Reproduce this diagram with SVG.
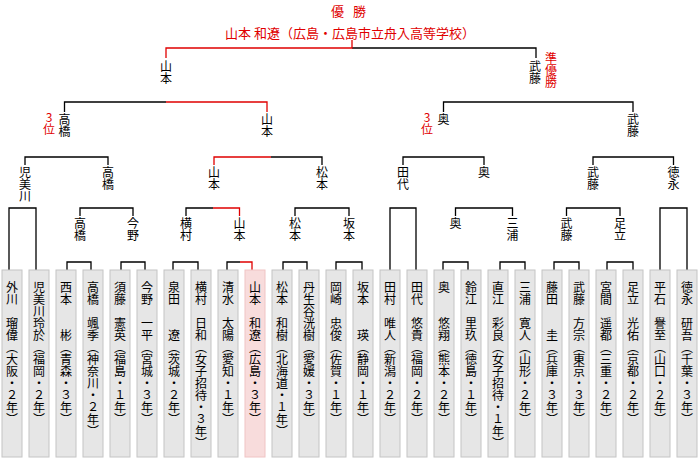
<svg xmlns="http://www.w3.org/2000/svg" width="700" height="460" viewBox="0 0 700 460">
<style>
.l{stroke:#000;stroke-width:1.3;fill:none}
.r{stroke:#e00000;stroke-width:1.3;fill:none}
.b{fill:#e6e6e6;stroke:#c4c4c4;stroke-width:1}
.h{fill:#f8dcdc;stroke:#f0c4c4;stroke-width:1}
text{font-family:"Noto Sans CJK JP","Noto Sans CJK SC",sans-serif}
.v{writing-mode:vertical-rl;font-size:12px;fill:#000}
.n{writing-mode:vertical-rl;font-size:12px;fill:#000}
.rv{writing-mode:vertical-rl;font-size:12px;fill:#e00000;text-orientation:upright}
.t{font-size:13px;fill:#e00000;text-anchor:middle}
</style>
<g id="title">
<text class="t" x="350" y="16" letter-spacing="3">優 勝</text>
<text class="t" x="350" y="38">山本 和遼（広島・広島市立舟入高等学校）</text>
</g>
<g id="connectors">
<path class="l" d="M352,48H536V58"/>
<path class="r" d="M352,40V48H166V58"/>
<path class="l" d="M64.5,112V102H166"/>
<path class="r" d="M166,102H267V112"/>
<path class="l" d="M443.5,112V102H633V112"/>
<path class="l" d="M25,165V157H108V165"/>
<path class="l" d="M271,157H322V165"/>
<path class="r" d="M271,157H214V165"/>
<path class="l" d="M403,165V157H484V165"/>
<path class="l" d="M593,165V157H673.5V165"/>
<path class="l" d="M9,270V208H36V270"/>
<path class="l" d="M80,216V208H133V216"/>
<path class="l" d="M186,216V208H213"/>
<path class="r" d="M213,208H239.5V216"/>
<path class="l" d="M295,216V208H349V216"/>
<path class="l" d="M390,270V208H416V270"/>
<path class="l" d="M455.5,216V208H512.5V216"/>
<path class="l" d="M566.5,216V208H620V216"/>
<path class="l" d="M660,270V208H687V270"/>
<path class="l" d="M67,270V262H91V270"/>
<path class="l" d="M121,270V262H145V270"/>
<path class="l" d="M173,270V262H198V270"/>
<path class="l" d="M227,270V262H240"/>
<path class="r" d="M240,262H252V270"/>
<path class="l" d="M283,270V262H307V270"/>
<path class="l" d="M336,270V262H362V270"/>
<path class="l" d="M443,270V262H468V270"/>
<path class="l" d="M500,270V262H525V270"/>
<path class="l" d="M554,270V262H579V270"/>
<path class="l" d="M607,270V262H633V270"/>
</g>
<g id="labels">
<text class="n" x="166" y="60">山本</text>
<text class="n" x="535" y="60">武藤</text>
<text class="rv" x="551" y="52">準優勝</text>
<text class="n" x="64.5" y="113">高橋</text>
<text class="rv" x="49" y="111">3位</text>
<text class="n" x="267" y="113">山本</text>
<text class="n" x="443.5" y="113">奥</text>
<text class="rv" x="427" y="111">3位</text>
<text class="n" x="633" y="113">武藤</text>
<text class="n" x="25" y="166">児美川</text>
<text class="n" x="108" y="166">高橋</text>
<text class="n" x="214" y="166">山本</text>
<text class="n" x="322" y="166">松本</text>
<text class="n" x="403" y="166">田代</text>
<text class="n" x="484" y="166">奥</text>
<text class="n" x="593" y="166">武藤</text>
<text class="n" x="673.5" y="166">徳永</text>
<text class="n" x="80" y="217">高橋</text>
<text class="n" x="133" y="217">今野</text>
<text class="n" x="186" y="217">横村</text>
<text class="n" x="239.5" y="217">山本</text>
<text class="n" x="295" y="217">松本</text>
<text class="n" x="349" y="217">坂本</text>
<text class="n" x="455.5" y="217">奥</text>
<text class="n" x="512.5" y="217">三浦</text>
<text class="n" x="566.5" y="217">武藤</text>
<text class="n" x="620" y="217">足立</text>
</g>
<g id="players">
<g id="p0"><rect class="b" x="2" y="270" width="20" height="187"/><text class="v" x="12" y="281">外川　瑠偉（大阪・２年）</text></g>
<g id="p1"><rect class="b" x="29" y="270" width="20" height="187"/><text class="v" x="39" y="281">児美川玲於（福岡・２年）</text></g>
<g id="p2"><rect class="b" x="56" y="270" width="20" height="187"/><text class="v" x="66" y="281">西本　　彬（青森・３年）</text></g>
<g id="p3"><rect class="b" x="83" y="270" width="20" height="187"/><text class="v" x="93" y="281">高橋　颯季（神奈川・２年）</text></g>
<g id="p4"><rect class="b" x="110" y="270" width="20" height="187"/><text class="v" x="120" y="281">須藤　憲英（福島・１年）</text></g>
<g id="p5"><rect class="b" x="137" y="270" width="20" height="187"/><text class="v" x="147" y="281">今野　一平（宮城・３年）</text></g>
<g id="p6"><rect class="b" x="164" y="270" width="20" height="187"/><text class="v" x="174" y="281">泉田　　遼（茨城・２年）</text></g>
<g id="p7"><rect class="b" x="191" y="270" width="20" height="187"/><text class="v" x="201" y="281">横村　日和（女子招待・３年）</text></g>
<g id="p8"><rect class="b" x="218" y="270" width="20" height="187"/><text class="v" x="228" y="281">清水　太陽（愛知・１年）</text></g>
<g id="p9"><rect class="h" x="245" y="270" width="20" height="187"/><text class="v" x="255" y="281">山本　和遼（広島・３年）</text></g>
<g id="p10"><rect class="b" x="272" y="270" width="20" height="187"/><text class="v" x="282" y="281">松本　和樹（北海道・１年）</text></g>
<g id="p11"><rect class="b" x="299" y="270" width="20" height="187"/><text class="v" x="309" y="281">丹生谷洸樹（愛媛・３年）</text></g>
<g id="p12"><rect class="b" x="326" y="270" width="20" height="187"/><text class="v" x="336" y="281">岡崎　忠俊（佐賀・１年）</text></g>
<g id="p13"><rect class="b" x="353" y="270" width="20" height="187"/><text class="v" x="363" y="281">坂本　　瑛（静岡・１年）</text></g>
<g id="p14"><rect class="b" x="380" y="270" width="20" height="187"/><text class="v" x="390" y="281">田村　唯人（新潟・２年）</text></g>
<g id="p15"><rect class="b" x="407" y="270" width="20" height="187"/><text class="v" x="417" y="281">田代　悠貴（福岡・２年）</text></g>
<g id="p16"><rect class="b" x="434" y="270" width="20" height="187"/><text class="v" x="444" y="281">奥　　悠翔（熊本・２年）</text></g>
<g id="p17"><rect class="b" x="461" y="270" width="20" height="187"/><text class="v" x="471" y="281">鈴江　里玖（徳島・１年）</text></g>
<g id="p18"><rect class="b" x="488" y="270" width="20" height="187"/><text class="v" x="498" y="281">直江　彩良（女子招待・１年）</text></g>
<g id="p19"><rect class="b" x="515" y="270" width="20" height="187"/><text class="v" x="525" y="281">三浦　寛人（山形・２年）</text></g>
<g id="p20"><rect class="b" x="542" y="270" width="20" height="187"/><text class="v" x="552" y="281">藤田　　圭（兵庫・３年）</text></g>
<g id="p21"><rect class="b" x="569" y="270" width="20" height="187"/><text class="v" x="579" y="281">武藤　方宗（東京・３年）</text></g>
<g id="p22"><rect class="b" x="596" y="270" width="20" height="187"/><text class="v" x="606" y="281">宮間　遥都（三重・２年）</text></g>
<g id="p23"><rect class="b" x="623" y="270" width="20" height="187"/><text class="v" x="633" y="281">足立　光佑（京都・２年）</text></g>
<g id="p24"><rect class="b" x="650" y="270" width="20" height="187"/><text class="v" x="660" y="281">平石　譽至（山口・２年）</text></g>
<g id="p25"><rect class="b" x="677" y="270" width="20" height="187"/><text class="v" x="687" y="281">徳永　研吾（千葉・３年）</text></g>
</g>
</svg>
